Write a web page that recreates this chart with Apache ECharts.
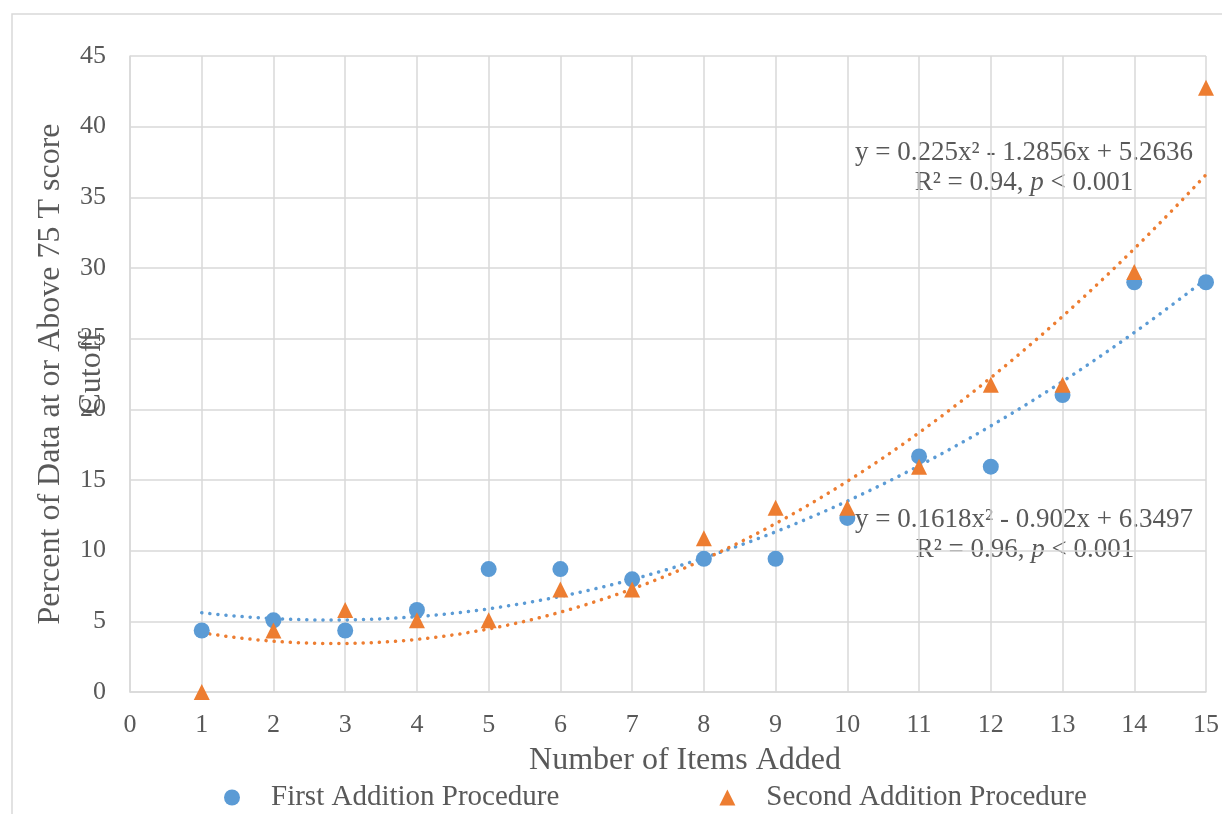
<!DOCTYPE html>
<html>
<head>
<meta charset="utf-8">
<script src="https://cdn.jsdelivr.net/npm/echarts@6/dist/echarts.min.js"></script>
<style>html,body{margin:0;padding:0;background:#fff}#c{width:1222px;height:814px}</style>
</head>
<body>
<div id="c"></div>
<script>
const items = [1,2,3,4,5,6,7,8,9,10,11,12,13,14,15];
const firstValues = [4.35, 5.07, 4.35, 5.80, 8.70, 8.70, 7.97, 9.42, 9.42, 12.32, 16.67, 15.94, 21.01, 28.99, 28.99];
const secondValues = [0, 4.35, 5.80, 5.07, 5.07, 7.25, 7.25, 10.87, 13.04, 13.04, 15.94, 21.74, 21.74, 29.71, 42.75];
// trendline coefficients as printed on the chart: [a, b, c] for a*x^2 + b*x + c
const firstTrend = [0.1618, -0.902, 6.3497];
const secondTrend = [0.225, -1.2856, 5.2636];
const yTicks = [0,5,10,15,20,25,30,35,40,45];
const xTicks = [0,1,2,3,4,5,6,7,8,9,10,11,12,13,14,15];
const yNameLines = ['Percent of Data at or Above 75 T score', 'Cutoff'];

const BLUE = '#5B9BD5', ORANGE = '#ED7D31', TXT = '#595959', GRID = '#d9d9d9';
const FONT = '"Liberation Serif", "Times New Roman", serif';

function trend(coef) {
  const pts = [];
  for (let i = 0; i <= 140; i++) {
    const x = 1 + i * 0.1;
    pts.push([x, coef[0]*x*x + coef[1]*x + coef[2]]);
  }
  return pts;
}

const richI = {i: {fontStyle: 'italic', fontFamily: FONT, fontSize: 27, fill: TXT}};

const chart = echarts.init(document.getElementById('c'), null, {renderer: 'canvas'});
chart.setOption({
  animation: false,
  textStyle: {fontFamily: FONT, color: TXT},
  grid: {left: 130, right: 16, top: 56, bottom: 122, containLabel: false, outerBoundsMode: 'none'},
  xAxis: {
    type: 'value', min: 0, max: 15, interval: 1,
    name: 'Number of Items Added', nameLocation: 'middle', nameGap: 53,
    nameTextStyle: {fontFamily: FONT, fontSize: 32, color: TXT, padding: [0, 0, 0, 34]},
    axisLine: {show: true, lineStyle: {color: GRID, width: 1.5}},
    axisTick: {show: false},
    axisLabel: {fontFamily: FONT, fontSize: 26, color: TXT, margin: 20,
      formatter: v => xTicks.includes(v) ? String(v) : ''},
    splitLine: {show: true, lineStyle: {color: GRID, width: 1.5}}
  },
  yAxis: {
    type: 'value', min: 0, max: 45, interval: 5,
    axisLine: {show: true, lineStyle: {color: GRID, width: 1.5}},
    axisTick: {show: false},
    axisLabel: {fontFamily: FONT, fontSize: 26, color: TXT, margin: 24,
      formatter: v => yTicks.includes(v) ? String(v) : ''},
    splitLine: {show: true, lineStyle: {color: GRID, width: 1.5}}
  },
  legend: {
    data: ['First Addition Procedure', 'Second Addition Procedure'],
    top: 783, left: 224, padding: 0, itemGap: 160, itemWidth: 16, itemHeight: 16,
    textStyle: {fontFamily: FONT, fontSize: 29, color: TXT, padding: [0,0,0,26]}
  },
  graphic: [
    {type: 'rect', shape: {x: 12, y: 14, width: 1240, height: 840}, style: {fill: 'none', stroke: GRID, lineWidth: 1.5}, silent: true, z: -1},
    {type: 'text', x: 51, y: 374, rotation: Math.PI/2, style: {text: yNameLines[0], font: '32px ' + FONT, fill: TXT, align: 'center', verticalAlign: 'middle'}},
    {type: 'text', x: 92, y: 373, rotation: Math.PI/2, style: {text: yNameLines[1], font: '32px ' + FONT, fill: TXT, align: 'center', verticalAlign: 'middle'}},
    {type: 'text', x: 1024, y: 153, style: {text: 'y = 0.225x² - 1.2856x + 5.2636', font: '27px ' + FONT, fill: TXT, align: 'center', verticalAlign: 'middle'}},
    {type: 'text', x: 1024, y: 183, style: {text: 'R² = 0.94, {i|p} < 0.001', font: '27px ' + FONT, fill: TXT, align: 'center', verticalAlign: 'middle', rich: richI}},
    {type: 'text', x: 1024, y: 520, style: {text: 'y = 0.1618x² - 0.902x + 6.3497', font: '27px ' + FONT, fill: TXT, align: 'center', verticalAlign: 'middle'}},
    {type: 'text', x: 1025, y: 550, style: {text: 'R² = 0.96, {i|p} < 0.001', font: '27px ' + FONT, fill: TXT, align: 'center', verticalAlign: 'middle', rich: richI}}
  ],
  series: [
    {name: 'First Trend', type: 'line', data: trend(firstTrend), showSymbol: false, smooth: false,
      lineStyle: {color: BLUE, width: 3.5, type: [0.1, 8], cap: 'round'}, z: 2, silent: true},
    {name: 'Second Trend', type: 'line', data: trend(secondTrend), showSymbol: false, smooth: false,
      lineStyle: {color: ORANGE, width: 3.5, type: [0.1, 8], cap: 'round'}, z: 2, silent: true},
    {name: 'First Addition Procedure', type: 'scatter', symbol: 'circle', symbolSize: 16,
      itemStyle: {color: BLUE, opacity: 1}, data: items.map((x, i) => [x, firstValues[i]]), z: 3},
    {name: 'Second Addition Procedure', type: 'scatter', symbol: 'triangle', symbolSize: 16,
      itemStyle: {color: ORANGE, opacity: 1}, data: items.map((x, i) => [x, secondValues[i]]), z: 4}
  ]
});
</script>
</body>
</html>
